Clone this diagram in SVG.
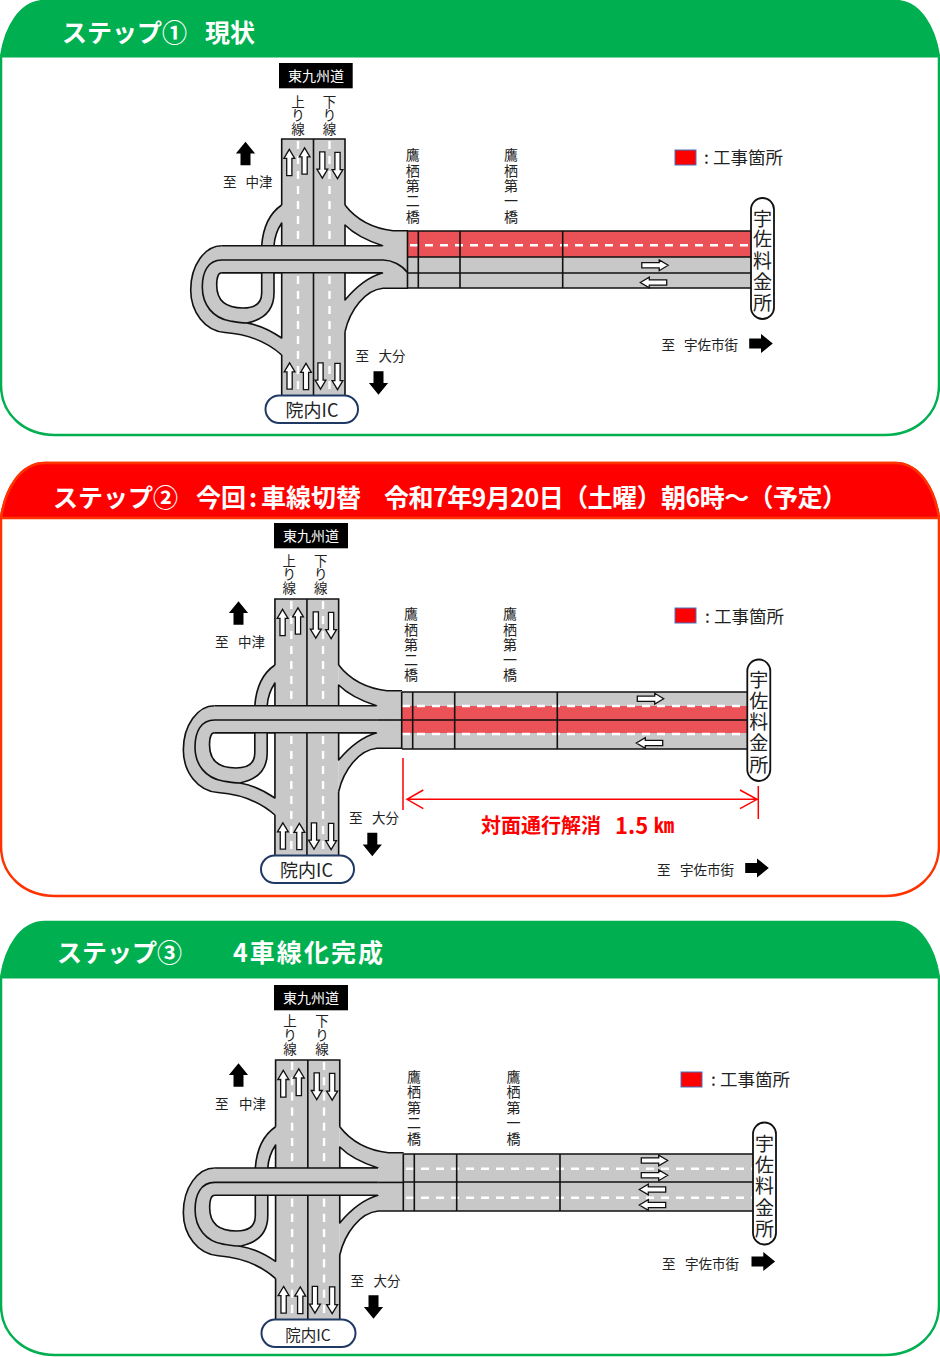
<svg xmlns="http://www.w3.org/2000/svg" width="940" height="1357" viewBox="0 0 940 1357">
<style>
text{font-family:"Noto Sans CJK JP","Noto Sans",sans-serif;dominant-baseline:central;fill:#222}
.hd{font-size:25px;font-weight:700;fill:#fff}
.v{font-size:13.5px;text-anchor:middle}
.b{font-size:14px;text-anchor:middle}
.t{font-size:13.5px}
.tw{font-size:14px;fill:#fff;text-anchor:middle}
.toll{font-size:19px;text-anchor:middle}
.ic{font-size:18px;text-anchor:middle}
.lg{font-size:17.5px}
.gr{fill:#c8c8c8;stroke:none}
.ln{fill:none;stroke:#111;stroke-width:1.6}
.hole{fill:#fff;stroke:#111;stroke-width:1.6;stroke-linejoin:round}
.dash{fill:none;stroke:#fff;stroke-width:2.4;stroke-dasharray:8 7}
.wa{fill:#fff;stroke:#111;stroke-width:1.3}
.ba{fill:#000}
.pill{fill:#fff;stroke:#1f3864;stroke-width:2}
.tp{fill:#fff;stroke:#111;stroke-width:1.8}
.red{fill:#ea5257}
.lgr{fill:#f00;stroke:#4472c4;stroke-width:1}
.dim{fill:none;stroke:#f00;stroke-width:1.5}
</style>
<defs>
<path id="wa" class="wa" d="M0,-13.2L5.4,-4.2H2.6V13.2H-2.6V-4.2H-5.4Z"/>
<path id="ba" class="ba" d="M0,-11.8L9.6,0H5V11.8H-5V0H-9.6Z"/>
<g id="ic">
<path class="gr" d="M285,205H281.7C270,213 263,228 261.7,245.7H221.7C205,245.7 190.7,265 190.7,290C190.7,312 205,331 225,332.5C245,334 265,340 281.7,355H285Z"/>
<path class="gr" d="M345,205C355,218 370,228 393,230.7H408.5V288.3H383C365,290 350,310 345,331.7Z"/>
<rect class="gr" x="281.7" y="139" width="63.3" height="256"/>
<path class="dash" d="M298,141V395M329.5,141V395"/>
<path class="ln" d="M281.7,395V355M345,395V331.7M281.7,205V139H345V205M313.5,139V395"/>
<path class="hole" d="M281.7,223C277,230 274.5,238 274,245.7H281.7Z"/>
<path class="hole" d="M274,272.7H281.7V338C270,330 260,325 246.7,323C262,320 274,312 274,293Z"/>
<path class="hole" d="M221.7,272.7H261.7V293C261.7,303 255,308 243,308C225,308 216.7,300 216.7,285C216.7,278 218,272.7 221.7,272.7Z"/>
<path class="hole" d="M345,225C355,235 368,241 382.7,245.7H345Z"/>
<path class="hole" d="M345,272.7H382.7C368,277 355,288 345,300Z"/>
<path class="ln" d="M281.7,205C270,213 263,228 261.7,245.7"/>
<path class="ln" d="M221.7,245.7C205,245.7 190.7,265 190.7,290C190.7,312 205,331 225,332.5C245,334 265,340 281.7,355"/>
<path class="ln" d="M345,205C355,218 370,228 393,230.7H408M345,331.7C350,310 365,290 383,288.3H408"/>
<rect class="gr" x="221.7" y="245.7" width="180" height="27"/>
<path class="ln" d="M382.7,245.7H221.7M382.7,272.7H221.7"/>
<path class="ln" d="M221.7,260C208,260 202.3,272 202.3,287C202.3,305 213,318 230,321C236,322 241,323 246.7,323M221.7,260H383"/>
<use href="#wa" transform="translate(289.3,162.5)"/>
<use href="#wa" transform="translate(304.6,161)"/>
<use href="#wa" transform="translate(322.3,165) rotate(180)"/>
<use href="#wa" transform="translate(337.5,165.5) rotate(180)"/>
<use href="#wa" transform="translate(289.6,376)"/>
<use href="#wa" transform="translate(306,376.5)"/>
<use href="#wa" transform="translate(320.5,376) rotate(180)"/>
<use href="#wa" transform="translate(337.5,376.5) rotate(180)"/>
</g>
</defs>

<g id="panel-1">
<path d="M1,57C5,28 20,1 45,1H895C920,1 935,28 939,57V385C939,415 915,435 885,435H55C25,435 1,415 1,385Z" fill="#fff" stroke="#00b050" stroke-width="2.5"/>
<path d="M1,57C5,28 20,1 45,1H895C920,1 935,28 939,57Z" fill="#00b050" stroke="#00b050"/>
<text class="hd" y="30.5"><tspan x="62">ステップ①</tspan><tspan x="205">現状</tspan></text>
<g id="road-1">
<use href="#ic"/>
<path class="ln" d="M383,260C392,260 402,265 407.7,272.7"/>
<rect class="gr" x="407.5" y="231" width="343.5" height="57"/>
<rect class="red" x="407.5" y="231" width="343.5" height="26"/>
<path class="dash" d="M410,245.3H751"/>
<path class="ln" d="M407.5,231H751M407.5,257H751M407.5,273H751M407.5,288H751M407.5,231V288M418.3,231V288M460,231V288M562.7,231V288"/>
<use href="#wa" transform="translate(655,265.3) rotate(90)"/>
<use href="#wa" transform="translate(653.5,282.5) rotate(-90)"/>
</g>
<g id="labels-1">
<rect x="279" y="63" width="73.7" height="25.3" fill="#000"/>
<text class="tw" x="316" y="75">東九州道</text>
<text class="v"><tspan x="298" y="100.5">上</tspan><tspan x="298" y="114">り</tspan><tspan x="298" y="128">線</tspan></text>
<text class="v"><tspan x="329.5" y="100.5">下</tspan><tspan x="329.5" y="114">り</tspan><tspan x="329.5" y="128">線</tspan></text>
<use href="#ba" transform="translate(245.5,153.5)"/>
<text class="t" y="180.5"><tspan x="223">至</tspan><tspan x="245.5">中津</tspan></text>
<text class="t" y="354.5"><tspan x="355.5">至</tspan><tspan x="378.5">大分</tspan></text>
<use href="#ba" transform="translate(378.5,383) rotate(180)"/>
<rect class="pill" x="265.5" y="395.5" width="92.5" height="27.5" rx="13.7"/>
<text class="ic" x="312" y="408.5">院内IC</text>
<text class="b"><tspan x="412.7" y="153.5">鷹</tspan><tspan x="412.7" y="169.5">栖</tspan><tspan x="412.7" y="185">第</tspan><tspan x="412.7" y="200">二</tspan><tspan x="412.7" y="215.5">橋</tspan></text>
<text class="b"><tspan x="511" y="153.5">鷹</tspan><tspan x="511" y="169.5">栖</tspan><tspan x="511" y="185">第</tspan><tspan x="511" y="200">一</tspan><tspan x="511" y="215.5">橋</tspan></text>
<rect class="lgr" x="675" y="150" width="21" height="15"/>
<text class="lg" y="156"><tspan x="704">:</tspan><tspan x="713">工事箇所</tspan></text>
<rect class="tp" x="751" y="198" width="23" height="121" rx="11.5"/>
<text class="toll"><tspan x="762.5" y="216.5">宇</tspan><tspan x="762.5" y="237">佐</tspan><tspan x="762.5" y="258.5">料</tspan><tspan x="762.5" y="280">金</tspan><tspan x="762.5" y="301">所</tspan></text>
<text class="t" y="344"><tspan x="661.5">至</tspan><tspan x="684">宇佐市街</tspan></text>
<use href="#ba" transform="translate(761,343.5) rotate(90)"/>
</g>
</g>

<g id="panel-2">
<path d="M1,518C5,490 20,463 45,463H895C920,463 935,490 939,518V846C939,876 915,896 885,896H55C25,896 1,876 1,846Z" fill="#fff" stroke="#ff3300" stroke-width="2.5"/>
<path d="M1,518C5,490 20,463 45,463H895C920,463 935,490 939,518Z" fill="#f00" stroke="#ff3300" stroke-width="2.5"/>
<text class="hd" y="495.5"><tspan x="53">ステップ②</tspan><tspan x="196">今回</tspan><tspan x="249">:</tspan><tspan x="261">車線切替</tspan></text>
<text class="hd" y="495.5" x="384" textLength="463">令和7年9月20日（土曜）朝6時～（予定）</text>
<g id="road-2">
<g transform="matrix(1.0065 0 0 1 -8.6 460)"><use href="#ic"/><path class="ln" d="M383,260H408"/></g>
<rect class="gr" x="402" y="692" width="345" height="57"/>
<rect class="red" x="402" y="706" width="345" height="27"/>
<path class="dash" d="M402,706H747M402,734H747"/>
<path class="ln" d="M402,692H747M402,720H747M402,749H747M401.7,692V749M412.7,692V749M454.7,692V749M557.3,692V749"/>
<use href="#wa" transform="translate(650.5,698.7) rotate(90)"/>
<use href="#wa" transform="translate(649.5,743) rotate(-90)"/>
</g>
<g id="labels-2">
<rect x="274" y="523" width="74" height="25.3" fill="#000"/>
<text class="tw" x="311" y="535">東九州道</text>
<text class="v"><tspan x="289.3" y="559.5">上</tspan><tspan x="289.3" y="573">り</tspan><tspan x="289.3" y="586.5">線</tspan></text>
<text class="v"><tspan x="320.7" y="559.5">下</tspan><tspan x="320.7" y="573">り</tspan><tspan x="320.7" y="586.5">線</tspan></text>
<use href="#ba" transform="translate(238.5,613)"/>
<text class="t" y="640.5"><tspan x="215">至</tspan><tspan x="238">中津</tspan></text>
<text class="t" y="816.5"><tspan x="349">至</tspan><tspan x="372">大分</tspan></text>
<use href="#ba" transform="translate(372.3,844.5) rotate(180)"/>
<rect class="pill" x="261" y="855.5" width="93" height="27.5" rx="13.7"/>
<text class="ic" x="306.5" y="869">院内IC</text>
<text class="b"><tspan x="411" y="612.5">鷹</tspan><tspan x="411" y="628.5">栖</tspan><tspan x="411" y="643.5">第</tspan><tspan x="411" y="658.5">二</tspan><tspan x="411" y="673.5">橋</tspan></text>
<text class="b"><tspan x="510" y="612.5">鷹</tspan><tspan x="510" y="628.5">栖</tspan><tspan x="510" y="643.5">第</tspan><tspan x="510" y="658.5">一</tspan><tspan x="510" y="673.5">橋</tspan></text>
<rect class="lgr" x="675" y="608" width="21" height="15"/>
<text class="lg" y="614.5"><tspan x="705">:</tspan><tspan x="714">工事箇所</tspan></text>
<rect class="tp" x="747.3" y="659.5" width="23" height="121.5" rx="11.5"/>
<text class="toll"><tspan x="758.7" y="677.5">宇</tspan><tspan x="758.7" y="698.5">佐</tspan><tspan x="758.7" y="719.5">料</tspan><tspan x="758.7" y="741">金</tspan><tspan x="758.7" y="762.5">所</tspan></text>
<path class="dim" d="M403,758V810M758.3,786V819M407,799.3H757M423.3,790L407,799.3L423.3,808.7M740,790L757,799.3L740,808.7"/>
<text y="823.5" font-size="20" font-weight="700" style="fill:#f00"><tspan x="481">対面通行解消</tspan><tspan x="615" font-size="22">1.5</tspan><tspan x="654">㎞</tspan></text>
<text class="t" y="868.5"><tspan x="657">至</tspan><tspan x="680">宇佐市街</tspan></text>
<use href="#ba" transform="translate(757,868) rotate(90)"/>
</g>
</g>

<g id="panel-3">
<path d="M1,978C5,949 20,922 45,922H895C920,922 935,949 939,978V1305C939,1335 915,1355 885,1355H55C25,1355 1,1335 1,1305Z" fill="#fff" stroke="#00b050" stroke-width="2.5"/>
<path d="M1,978C5,949 20,922 45,922H895C920,922 935,949 939,978Z" fill="#00b050" stroke="#00b050"/>
<text class="hd" y="950.5" x="57">ステップ③</text>
<text class="hd" y="950.5" x="233" textLength="150">4車線化完成</text>
<g id="road-3">
<g transform="matrix(1.0138 0 0 1.012 -10 919.3)"><use href="#ic"/><path class="ln" d="M383,260H408"/></g>
<rect class="gr" x="403.3" y="1154" width="349.7" height="57"/>
<path class="dash" d="M406,1168.7H753M406,1197.7H753"/>
<path class="ln" d="M403.3,1154H753M403.3,1182H753M403.3,1211H753M403.3,1154V1211M414.3,1154V1211M456.7,1154V1211M560,1154V1211"/>
<use href="#wa" transform="translate(654.5,1160.5) rotate(90)"/>
<use href="#wa" transform="translate(654.5,1175.3) rotate(90)"/>
<use href="#wa" transform="translate(652.5,1189.5) rotate(-90)"/>
<use href="#wa" transform="translate(652.5,1205) rotate(-90)"/>
</g>
<g id="labels-3">
<rect x="274" y="985" width="74" height="25.3" fill="#000"/>
<text class="tw" x="311" y="997">東九州道</text>
<text class="v"><tspan x="290" y="1019.5">上</tspan><tspan x="290" y="1033.5">り</tspan><tspan x="290" y="1047.5">線</tspan></text>
<text class="v"><tspan x="322" y="1019.5">下</tspan><tspan x="322" y="1033.5">り</tspan><tspan x="322" y="1047.5">線</tspan></text>
<use href="#ba" transform="translate(238.5,1075)"/>
<text class="t" y="1102.5"><tspan x="215">至</tspan><tspan x="239">中津</tspan></text>
<text class="t" y="1279.5"><tspan x="350.5">至</tspan><tspan x="373.5">大分</tspan></text>
<use href="#ba" transform="translate(373.5,1307) rotate(180)"/>
<rect class="pill" x="261.5" y="1319.5" width="94" height="27.5" rx="13.7"/>
<text x="308" y="1333.5" style="text-anchor:middle;font-size:15.5px">院内IC</text>
<text class="b"><tspan x="414" y="1075.5">鷹</tspan><tspan x="414" y="1091">栖</tspan><tspan x="414" y="1106.5">第</tspan><tspan x="414" y="1122">二</tspan><tspan x="414" y="1137.5">橋</tspan></text>
<text class="b"><tspan x="513.5" y="1075.5">鷹</tspan><tspan x="513.5" y="1091">栖</tspan><tspan x="513.5" y="1106.5">第</tspan><tspan x="513.5" y="1122">一</tspan><tspan x="513.5" y="1137.5">橋</tspan></text>
<rect class="lgr" x="681" y="1072" width="21" height="15"/>
<text class="lg" y="1078"><tspan x="711">:</tspan><tspan x="720">工事箇所</tspan></text>
<rect class="tp" x="753" y="1122.5" width="23" height="122" rx="11.5"/>
<text class="toll"><tspan x="764.5" y="1141.5">宇</tspan><tspan x="764.5" y="1162.5">佐</tspan><tspan x="764.5" y="1184">料</tspan><tspan x="764.5" y="1205.5">金</tspan><tspan x="764.5" y="1226.5">所</tspan></text>
<text class="t" y="1262.5"><tspan x="662">至</tspan><tspan x="685">宇佐市街</tspan></text>
<use href="#ba" transform="translate(763.3,1261.5) rotate(90)"/>
</g>
</g>
</svg>
